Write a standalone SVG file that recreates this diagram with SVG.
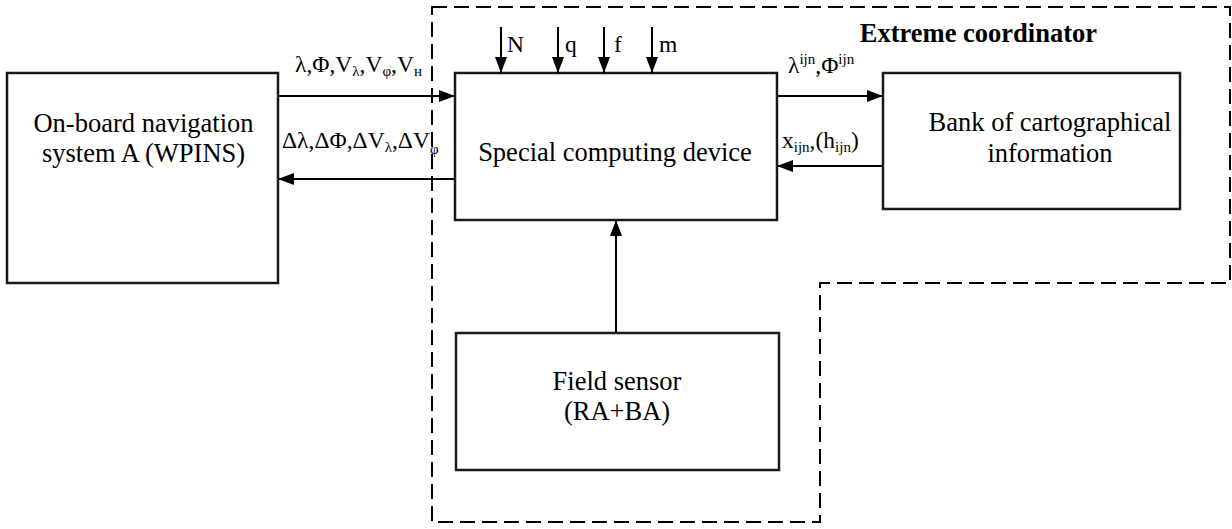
<svg xmlns="http://www.w3.org/2000/svg" width="1232" height="529" viewBox="0 0 1232 529">
<style>
.box{fill:#fff;stroke:#1a1a1a;stroke-width:2.5}
.t{font-family:"Liberation Serif","Times New Roman",serif;font-size:26.5px;fill:#000;text-anchor:middle}
.l{font-family:"Liberation Serif","Times New Roman",serif;font-size:23.5px;fill:#000}
.s{font-size:15px}
.b{font-weight:bold}
.c{stroke:#000;stroke-width:2;fill:none}
.d{stroke:#000;stroke-width:2;fill:none;stroke-dasharray:15 7}
</style>
<defs>
<marker id="ah" viewBox="0 0 16 12" refX="16" refY="6" markerWidth="16" markerHeight="12" markerUnits="userSpaceOnUse" orient="auto">
<path d="M0,0 L16,6 L0,12 Z" fill="#000"/>
</marker>
</defs>
<g id="boundary">
<path class="d" d="M432,7 H1230 V283 H820 V522 H432 Z"/>
<text class="l b" x="1097" y="42" style="font-size:26.5px;text-anchor:end">Extreme coordinator</text>
</g>
<g id="nav">
<rect class="box" x="7" y="73" width="271" height="210"/>
<text class="t" x="143.5" y="132">On-board navigation</text>
<text class="t" x="143.5" y="162">system A (WPINS)</text>
</g>
<g id="scd">
<rect class="box" x="455" y="73" width="322" height="147"/>
<text class="t" x="615" y="161">Special computing device</text>
</g>
<g id="bank">
<rect class="box" x="883" y="73" width="297" height="136"/>
<text class="t" x="1050" y="131">Bank of cartographical</text>
<text class="t" x="1050" y="162">information</text>
</g>
<g id="sensor">
<rect class="box" x="456" y="333" width="323" height="137"/>
<text class="t" x="617" y="390">Field sensor</text>
<text class="t" x="617" y="420">(RA+BA)</text>
</g>
<g id="connectors">
<line class="c" x1="278" y1="96" x2="455" y2="96" marker-end="url(#ah)"/>
<line class="c" x1="455" y1="179" x2="278" y2="179" marker-end="url(#ah)"/>
<line class="c" x1="777" y1="96" x2="883" y2="96" marker-end="url(#ah)"/>
<line class="c" x1="883" y1="166" x2="777" y2="166" marker-end="url(#ah)"/>
<line class="c" x1="616" y1="333" x2="616" y2="220" marker-end="url(#ah)"/>
<line class="c" x1="501" y1="27" x2="501" y2="73" marker-end="url(#ah)"/>
<line class="c" x1="558" y1="27" x2="558" y2="73" marker-end="url(#ah)"/>
<line class="c" x1="604" y1="27" x2="604" y2="73" marker-end="url(#ah)"/>
<line class="c" x1="652" y1="27" x2="652" y2="73" marker-end="url(#ah)"/>
</g>
<g id="labels">
<text class="l" x="295" y="72">λ,Φ,V<tspan class="s" dy="4">λ</tspan><tspan dy="-4">,V</tspan><tspan class="s" dy="4">φ</tspan><tspan dy="-4">,V</tspan><tspan class="s" dy="4">н</tspan></text>
<text class="l" x="282" y="148">Δλ,ΔΦ,ΔV<tspan class="s" dy="4">λ</tspan><tspan dy="-4">,ΔV</tspan><tspan class="s" dy="6">φ</tspan></text>
<text class="l" x="507" y="52">N</text>
<text class="l" x="565" y="52">q</text>
<text class="l" x="614" y="52">f</text>
<text class="l" x="659" y="52">m</text>
<text class="l" x="788" y="73">λ<tspan class="s" dy="-9">ijn</tspan><tspan dy="9">,Φ</tspan><tspan class="s" dy="-9">ijn</tspan></text>
<text class="l" x="782" y="148">x<tspan class="s" dy="4">ijn</tspan><tspan dy="-4">,(h</tspan><tspan class="s" dy="4">ijn</tspan><tspan dy="-4">)</tspan></text>
</g>
</svg>
